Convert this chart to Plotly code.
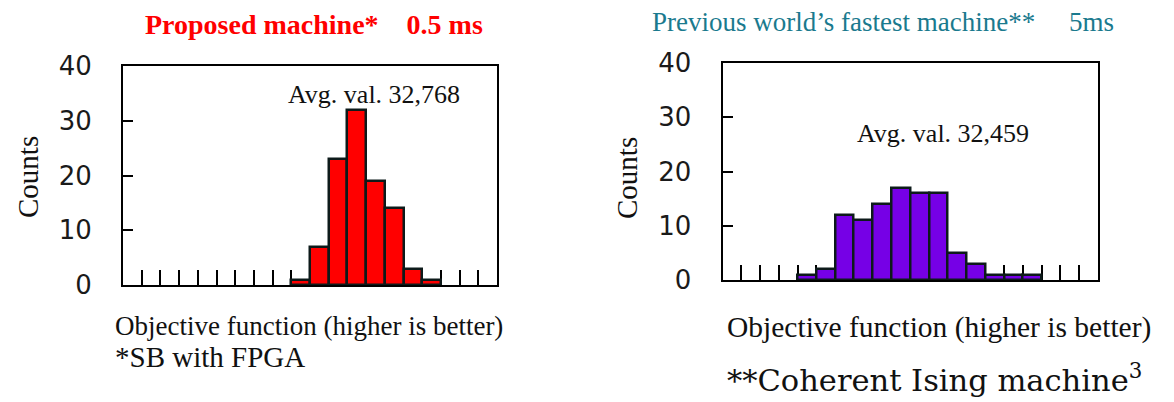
import plotly.graph_objects as go

W, H = 1174, 402

# ---- data ----
bins = list(range(20))  # histogram bin index (objective-function bins)
counts_proposed = [0, 0, 0, 0, 0, 0, 0, 0, 0, 1, 7, 23, 32, 19, 14, 3, 1, 0, 0, 0]
counts_previous = [0, 0, 0, 0, 1, 2, 12, 11, 14, 17, 16, 16, 5, 3, 1, 1, 1, 0, 0, 0]
y_ticks = [0, 10, 20, 30, 40]
x_ticks = list(range(1, 20))

title_left = "<b>Proposed machine*\u00a0\u00a0\u00a0 0.5 ms</b>"
title_right = "Previous world\u2019s fastest machine**\u00a0\u00a0\u00a0\u00a0 5ms"
avg_left = "Avg. val. 32,768"
avg_right = "Avg. val. 32,459"
xlabel = "Objective function (higher is better)"
foot_left = "*SB with FPGA"
foot_right = "**Coherent Ising machine<sup>3</sup>"


def px(x):
    return x / W


def py(y):
    return 1 - y / H


serif = "Liberation Serif"
sans = "DejaVu Sans"
outline = "#0d1a1a"

fig = go.Figure()
fig.add_trace(go.Bar(
    x=[b + 0.5 for b in bins],
    y=[c if c else None for c in counts_proposed],
    width=1, marker=dict(color="#ff0000", line=dict(color=outline, width=2.5)),
    xaxis="x", yaxis="y", showlegend=False, hoverinfo="y"))
fig.add_trace(go.Bar(
    x=[b + 0.5 for b in bins],
    y=[c if c else None for c in counts_previous],
    width=1, marker=dict(color="#7600e6", line=dict(color=outline, width=2.5)),
    xaxis="x2", yaxis="y2", showlegend=False, hoverinfo="y"))

xcommon = dict(range=[0, 20], tickvals=x_ticks, ticks="inside", ticklen=15,
               tickwidth=2, tickcolor="black", showticklabels=False,
               showline=True, mirror=True, linewidth=2, linecolor="black",
               showgrid=False, zeroline=False, layer="below traces",
               fixedrange=True, automargin=False)
ycommon = dict(range=[0, 40], tickvals=y_ticks, ticks="inside", ticklen=10,
               tickwidth=2, tickcolor="black",
               tickfont=dict(family=sans, size=26, color="#1a1a1a"),
               ticklabelstandoff=24,
               showline=True, mirror=True, linewidth=2, linecolor="black",
               showgrid=False, zeroline=False, layer="below traces",
               fixedrange=True, automargin=False)

fig.update_layout(
    template="none",
    width=W, height=H, autosize=False,
    margin=dict(l=0, r=0, t=0, b=0, pad=0, autoexpand=False),
    paper_bgcolor="white", plot_bgcolor="white", bargap=0,
    xaxis=dict(domain=[px(123), px(497)], anchor="y", **xcommon),
    yaxis=dict(domain=[py(285), py(66)], anchor="x", **ycommon),
    xaxis2=dict(domain=[px(722.5), px(1098)], anchor="y2", **xcommon),
    yaxis2=dict(domain=[py(280), py(63)], anchor="x2", **ycommon),
)

anns = [
    dict(text=title_left, x=px(314), y=py(25), font=dict(family=serif, size=28, color="#ff0000")),
    dict(text=title_right, x=px(883), y=py(22), font=dict(family=serif, size=27, color="#1a7a8e")),
    dict(text=avg_left, x=px(374), y=py(95), font=dict(family=serif, size=26, color="#111111")),
    dict(text=avg_right, x=px(943), y=py(133), font=dict(family=serif, size=26, color="#111111")),
    dict(text="Counts", x=px(28), y=py(177), textangle=-90, font=dict(family=serif, size=29, color="#111111")),
    dict(text="Counts", x=px(627), y=py(178), textangle=-90, font=dict(family=serif, size=29, color="#111111")),
    dict(text=xlabel, x=px(113), y=py(326), xanchor="left", font=dict(family=serif, size=27, color="#111111")),
    dict(text=foot_left, x=px(113), y=py(357), xanchor="left", font=dict(family=serif, size=29, color="#111111")),
    dict(text=xlabel, x=px(725), y=py(327), xanchor="left", font=dict(family=serif, size=29.5, color="#111111")),
    dict(text=foot_right, x=px(725), y=py(378), xanchor="left", font=dict(family="DejaVu Serif", size=30.5, color="#111111")),
]
for a in anns:
    a.setdefault("xanchor", "center")
    a.setdefault("yanchor", "middle")
    fig.add_annotation(xref="paper", yref="paper", showarrow=False, **a)

fig.write_html("out.html", config={"displayModeBar": False, "responsive": False},
               post_script="document.body.style.margin='0';document.body.style.padding='0';")
